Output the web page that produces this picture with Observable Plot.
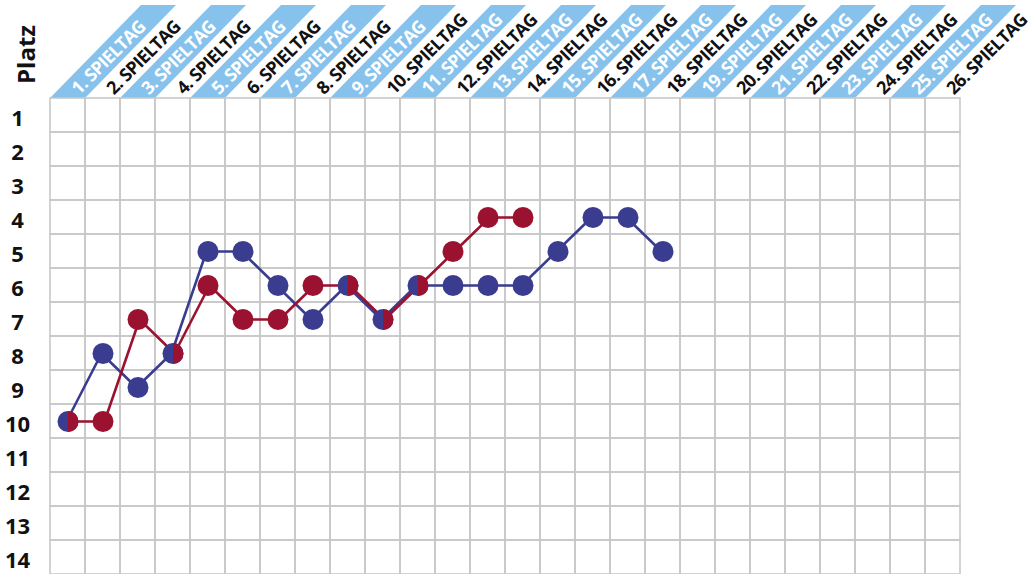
<!DOCTYPE html>
<html>
<head>
<meta charset="utf-8">
<script src="https://cdn.jsdelivr.net/npm/d3@7"></script>
<script src="https://cdn.jsdelivr.net/npm/@observablehq/plot@0.6"></script>
<style>
  html, body { margin: 0; padding: 0; background: #fff; }
  .hdr text { letter-spacing: -0.7px; }
</style>
</head>
<body>
<div id="chart"></div>
<script>
const days = [1,2,3,4,5,6,7,8,9,10,11,12,13,14,15,16,17,18,19,20,21,22,23,24,25,26];
const dayLabels = ["1. SPIELTAG","2. SPIELTAG","3. SPIELTAG","4. SPIELTAG","5. SPIELTAG","6. SPIELTAG","7. SPIELTAG","8. SPIELTAG","9. SPIELTAG","10. SPIELTAG","11. SPIELTAG","12. SPIELTAG","13. SPIELTAG","14. SPIELTAG","15. SPIELTAG","16. SPIELTAG","17. SPIELTAG","18. SPIELTAG","19. SPIELTAG","20. SPIELTAG","21. SPIELTAG","22. SPIELTAG","23. SPIELTAG","24. SPIELTAG","25. SPIELTAG","26. SPIELTAG"];
const ranks = [1,2,3,4,5,6,7,8,9,10,11,12,13,14];
const blueRanks = [10,8,9,8,5,5,6,7,6,7,6,6,6,6,5,4,4,5];
const redRanks = [10,10,7,8,6,7,7,6,6,7,6,5,4,4];

const BLUE = "#3a3d8f";
const RED = "#9b1230";
const BAND = "#86c2ec";
const GRID = "#c8c8c8";

const blue = blueRanks.map((r, i) => ({day: days[i], rank: r}));
const red = redRanks.map((r, i) => ({day: days[i], rank: r}));
const shared = red.filter((d, i) => blue[i] && blue[i].rank === d.rank);
const redOnly = red.filter((d, i) => !(blue[i] && blue[i].rank === d.rank));
const cells = days.flatMap(d => ranks.map(r => ({day: d, rank: r})));
const header = days.map((d, i) => ({day: d, label: dayLabels[i], odd: d % 2 === 1}));

const rightHalf = {
  draw(context, size) {
    const r = Math.sqrt(size / Math.PI);
    context.moveTo(0, -r);
    context.arc(0, 0, r, -Math.PI / 2, Math.PI / 2);
    context.closePath();
  }
};

function bands(index, scales, values, dims) {
  const g = d3.create("svg:g");
  const bw = scales.x.bandwidth();
  const top = dims.marginTop;
  const rise = top - 5, run = 91;
  for (const h of header) {
    if (!h.odd) continue;
    const x0 = scales.x(h.day);
    g.append("polygon")
      .attr("points", [[x0, top], [x0 + bw, top], [x0 + bw + run, top - rise], [x0 + run, top - rise]].map(p => p.join(",")).join(" "))
      .attr("fill", BAND);
  }
  return g.node();
}

const chart = Plot.plot({
  width: 1035,
  height: 574,
  marginTop: 98,
  marginLeft: 50,
  marginRight: 75,
  marginBottom: 0,
  style: {fontFamily: "'Open Sans', sans-serif", background: "#fff", overflow: "visible"},
  x: {type: "band", domain: days, padding: 0, axis: null},
  y: {type: "band", domain: ranks, padding: 0, axis: null},
  marks: [
    bands,
    Plot.cell(cells, {x: "day", y: "rank", fill: "none", stroke: GRID, strokeWidth: 1.6, inset: 0}),
    Plot.text(header, {x: "day", frameAnchor: "top", text: "label", rotate: -45, textAnchor: "start", lineAnchor: "middle", dx: 7, dy: -7, fontSize: 18, fontWeight: 700, className: "hdr", fill: d => d.odd ? "#ffffff" : "#111111"}),
    Plot.text(ranks, {y: d => d, text: d => String(d), frameAnchor: "left", dx: -33, dy: 3, textAnchor: "middle", fontSize: 22, fontWeight: 700, fill: "#111"}),
    Plot.text(["Platz"], {frameAnchor: "top-left", text: d => d, dx: -33, dy: -44, rotate: -90, textAnchor: "middle", fontSize: 24, fontWeight: 700, fill: "#111"}),
    Plot.line(blue, {x: "day", y: "rank", stroke: BLUE, strokeWidth: 2.6, dx: -1.5}),
    Plot.line(red, {x: "day", y: "rank", stroke: RED, strokeWidth: 2.6, dx: 1.5}),
    Plot.dot(blue, {x: "day", y: "rank", r: 10.5, fill: BLUE}),
    Plot.dot(redOnly, {x: "day", y: "rank", r: 10.5, fill: RED}),
    Plot.dot(shared, {x: "day", y: "rank", r: 10.5, fill: RED, symbol: rightHalf})
  ]
});
document.getElementById("chart").appendChild(chart);
</script>
</body>
</html>
